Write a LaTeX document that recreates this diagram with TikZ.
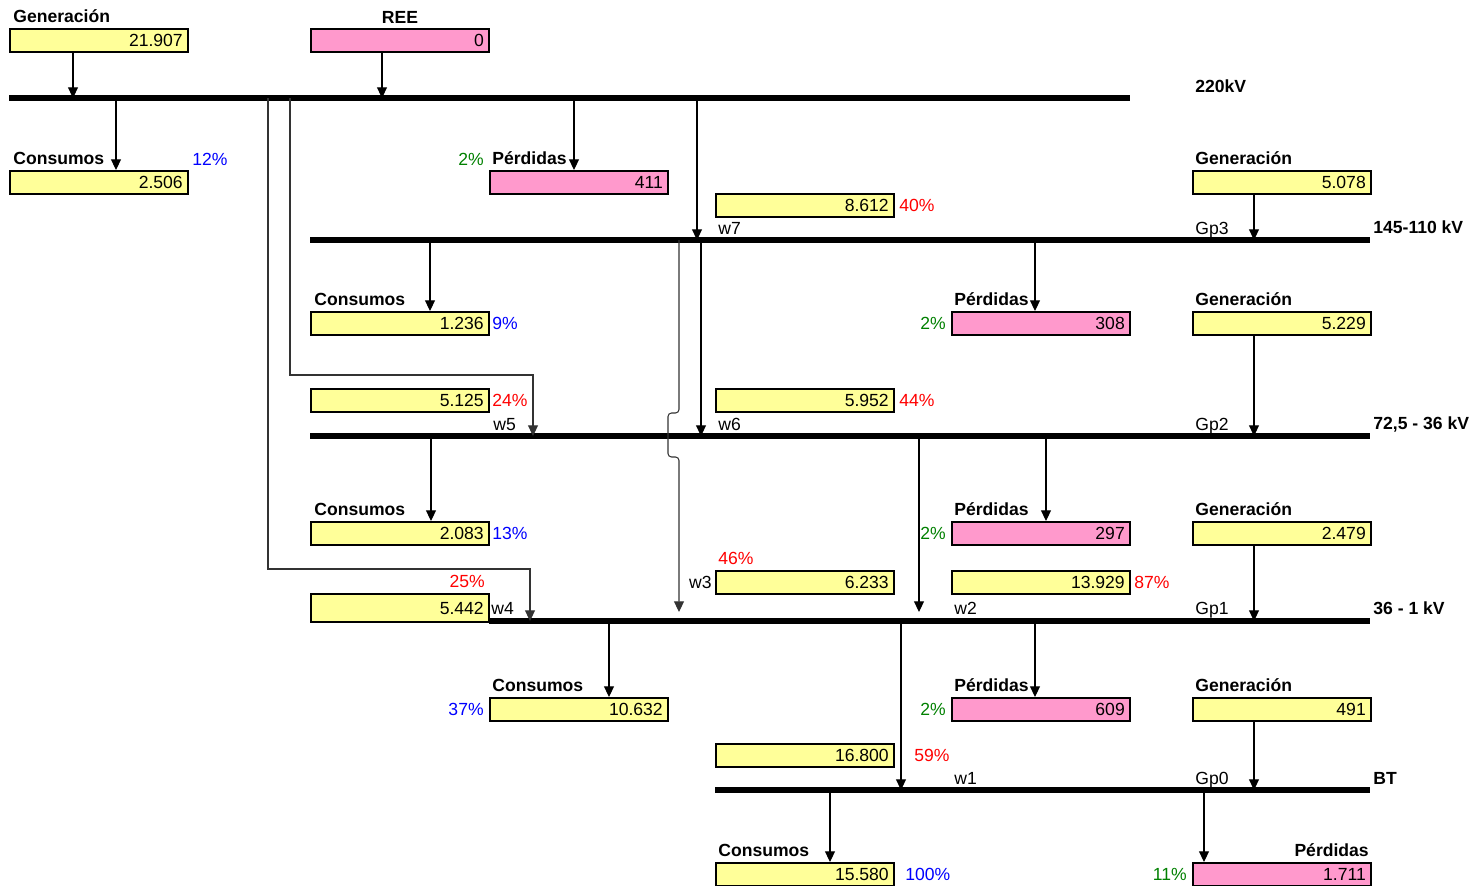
\documentclass[tikz,border=0pt]{standalone}
\usepackage{fontspec}
\setmainfont{Liberation Sans}
\usetikzlibrary{arrows.meta, positioning}
\definecolor{bal_yellow}{HTML}{FFFF99}
\definecolor{bal_pink}{HTML}{FF99CC}
\definecolor{bal_blue}{HTML}{0000FF}
\definecolor{bal_red}{HTML}{FF0000}
\definecolor{bal_green}{HTML}{008000}

\begin{document}
\begin{tikzpicture}[
        x=0.02cm, y=-0.02cm,
        value/.style={rectangle, draw, line width=1.2pt, fill=bal_yellow, anchor=north west, minimum height=0.46cm, text width=3.35cm, inner xsep=0.105cm, inner ysep=0pt, align=right},
        loss/.style={value, fill=bal_pink},
        title/.style={font=\bfseries, inner sep=0pt},
        tag/.style={inner sep=0pt, anchor=base west},
        pct/.style={inner sep=0pt},
        bus/.style={line width=2.9pt},
        flow/.style={-{Triangle[length=6pt, width=5.6pt]}, line width=0.6pt},
        bypass/.style={flow, black!80},
    ]
        \useasboundingbox (0,0) rectangle (1475,886);

        % Buses
        \coordinate (b220-w) at (9,98);    \coordinate (b220-e) at (1130,98);
        \coordinate (b145-w) at (310,240); \coordinate (b145-e) at (1370,240);
        \coordinate (b72-w) at (310,436);  \coordinate (b72-e) at (1370,436);
        \coordinate (b36-w) at (489,621);  \coordinate (b36-e) at (1370,621);
        \coordinate (bbt-w) at (715,790);  \coordinate (bbt-e) at (1370,790);
        \draw[bus] (b220-w) -- (b220-e);
        \draw[bus] (b145-w) -- (b145-e);
        \draw[bus] (b72-w) -- (b72-e);
        \draw[bus] (b36-w) -- (b36-e);
        \draw[bus] (bbt-w) -- (bbt-e);

        \node[title, anchor=base west] (b220-t) at (1195,92) {220kV};
        \node[title, anchor=base west] (b145-t) at (1373,233) {145-110 kV};
        \node[title, anchor=base west] (b72-t) at (1373,429) {72,5 - 36 kV};
        \node[title, anchor=base west] (b36-t) at (1373,614) {36 - 1 kV};
        \node[title, anchor=base west] (bbt-t) at (1373,784) {BT};

        % 220 kV
        \node[value] (gen) at (9,28) {21.907};
        \node[title, above right=0.09cm and 0.08cm of gen.north west] (gen-t) {Generación};
        \node[loss] (ree) at (310,28) {0};
        \node[title, above=0.09cm of ree.north] (ree-t) {REE};

        \node[value] (c220) at (9,170) {2.506};
        \node[title, above right=0.09cm and 0.08cm of c220.north west] (c220-t) {Consumos};
        \node[pct, text=bal_blue, above right=0.09cm and 0.06cm of c220.north east] (c220-p) {12\%};

        \node[loss] (p220) at (489,170) {411};
        \node[title, above right=0.09cm and 0.06cm of p220.north west] (p220-t) {Pérdidas};
        \node[pct, text=bal_green, above left=0.09cm and 0.1cm of p220.north west] (p220-p) {2\%};

        \coordinate (t220-gen) at (73,98);
        \coordinate (t220-ree) at (382,98);
        \coordinate (t220-con) at (116,98);
        \coordinate (t220-per) at (574,98);
        \draw[flow] (gen.south -| t220-gen) -- (t220-gen);
        \draw[flow] (ree.south -| t220-ree) -- (t220-ree);
        \draw[flow] (t220-con) -- (c220.north -| t220-con);
        \draw[flow] (t220-per) -- (p220.north -| t220-per);

        % 145-110 kV
        \node[value] (w7) at (715,193) {8.612};
        \node[pct, text=bal_red, right=0.08cm of w7] (w7-p) {40\%};
        \node[tag] (w7-t) at (718,234) {w7};
        \coordinate (t220-w7) at (697,98);
        \coordinate (t145-w7) at (697,240);
        \draw[flow] (t220-w7) -- (t145-w7);

        \node[value] (g145) at (1192,170) {5.078};
        \node[title, above right=0.09cm and 0.06cm of g145.north west] (g145-t) {Generación};
        \node[tag] (gp3) at (1195,234) {Gp3};
        \coordinate (t145-gen) at (1254,240);
        \draw[flow] (g145.south -| t145-gen) -- (t145-gen);

        \node[value] (c145) at (310,311) {1.236};
        \node[title, above right=0.09cm and 0.08cm of c145.north west] (c145-t) {Consumos};
        \node[pct, text=bal_blue, right=0.04cm of c145] (c145-p) {9\%};
        \coordinate (t145-con) at (430,240);
        \draw[flow] (t145-con) -- (c145.north -| t145-con);

        \node[loss] (p145) at (951,311) {308};
        \node[title, above right=0.09cm and 0.06cm of p145.north west] (p145-t) {Pérdidas};
        \node[pct, text=bal_green, left=0.1cm of p145] (p145-p) {2\%};
        \coordinate (t145-per) at (1035,240);
        \draw[flow] (t145-per) -- (p145.north -| t145-per);

        % 72,5 - 36 kV
        \node[value] (w5) at (310,388) {5.125};
        \node[pct, text=bal_red, right=0.04cm of w5] (w5-p) {24\%};
        \node[tag] (w5-t) at (493,430) {w5};
        \coordinate (t220-w5) at (290,98);
        \coordinate (t72-w5) at (533,436);
        \draw[bypass] (t220-w5) -- (290,375) -- (533,375) -- (t72-w5);

        \node[value] (w6) at (715,388) {5.952};
        \node[pct, text=bal_red, right=0.08cm of w6] (w6-p) {44\%};
        \node[tag] (w6-t) at (718,430) {w6};
        \coordinate (t145-w6) at (701,240);
        \coordinate (t72-w6) at (701,436);
        \draw[flow] (t145-w6) -- (t72-w6);

        \node[value] (g72) at (1192,311) {5.229};
        \node[title, above right=0.09cm and 0.06cm of g72.north west] (g72-t) {Generación};
        \node[tag] (gp2) at (1195,430) {Gp2};
        \coordinate (t72-gen) at (1254,436);
        \draw[flow] (g72.south -| t72-gen) -- (t72-gen);

        \node[value] (c72) at (310,521) {2.083};
        \node[title, above right=0.09cm and 0.08cm of c72.north west] (c72-t) {Consumos};
        \node[pct, text=bal_blue, right=0.04cm of c72] (c72-p) {13\%};
        \coordinate (t72-con) at (431,436);
        \draw[flow] (t72-con) -- (c72.north -| t72-con);

        \node[loss] (p72) at (951,521) {297};
        \node[title, above right=0.09cm and 0.06cm of p72.north west] (p72-t) {Pérdidas};
        \node[pct, text=bal_green, left=0.1cm of p72] (p72-p) {2\%};
        \coordinate (t72-per) at (1046,436);
        \draw[flow] (t72-per) -- (p72.north -| t72-per);

        % 36 - 1 kV
        \node[value] (w3) at (715,570) {6.233};
        \node[pct, text=bal_red, above right=0.1cm and 0.06cm of w3.north west] (w3-p) {46\%};
        \node[inner sep=0pt, left=0.06cm of w3] (w3-t) {w3};
        \coordinate (t145-w3) at (679,240);
        \coordinate (t36-w3) at (679,612);
        \draw[bypass, rounded corners=2pt] (t145-w3) -- (679,413) -- (668,413) -- (668,457) -- (679,457) -- (t36-w3);

        \node[value] (w2) at (951,570) {13.929};
        \node[pct, text=bal_red, right=0.06cm of w2] (w2-p) {87\%};
        \node[tag] (w2-t) at (954,614) {w2};
        \coordinate (t72-w2) at (919,436);
        \coordinate (t36-w2) at (919,612);
        \draw[flow] (t72-w2) -- (t36-w2);

        \node[value, minimum height=0.56cm] (w4) at (310,593) {5.442};
        \node[pct, text=bal_red, above left=0.1cm and 0.1cm of w4.north east] (w4-p) {25\%};
        \node[tag] (w4-t) at (491,614) {w4};
        \coordinate (t220-w4) at (268,98);
        \coordinate (t36-w4) at (530,621);
        \draw[bypass] (t220-w4) -- (268,569) -- (530,569) -- (t36-w4);

        \node[value] (g36) at (1192,521) {2.479};
        \node[title, above right=0.09cm and 0.06cm of g36.north west] (g36-t) {Generación};
        \node[tag] (gp1) at (1195,614) {Gp1};
        \coordinate (t36-gen) at (1254,621);
        \draw[flow] (g36.south -| t36-gen) -- (t36-gen);

        \node[value] (c36) at (489,697) {10.632};
        \node[title, above right=0.09cm and 0.06cm of c36.north west] (c36-t) {Consumos};
        \node[pct, text=bal_blue, left=0.1cm of c36] (c36-p) {37\%};
        \coordinate (t36-con) at (609,621);
        \draw[flow] (t36-con) -- (c36.north -| t36-con);

        \node[loss] (p36) at (951,697) {609};
        \node[title, above right=0.09cm and 0.06cm of p36.north west] (p36-t) {Pérdidas};
        \node[pct, text=bal_green, left=0.1cm of p36] (p36-p) {2\%};
        \coordinate (t36-per) at (1035,621);
        \draw[flow] (t36-per) -- (p36.north -| t36-per);

        % BT
        \node[value] (w1) at (715,743) {16.800};
        \node[pct, text=bal_red, right=0.38cm of w1] (w1-p) {59\%};
        \node[tag] (w1-t) at (954,784) {w1};
        \coordinate (t36-w1) at (901,621);
        \coordinate (tbt-w1) at (901,790);
        \draw[flow] (t36-w1) -- (tbt-w1);

        \node[value] (gbt) at (1192,697) {491};
        \node[title, above right=0.09cm and 0.06cm of gbt.north west] (gbt-t) {Generación};
        \node[tag] (gp0) at (1195,784) {Gp0};
        \coordinate (tbt-gen) at (1254,790);
        \draw[flow] (gbt.south -| tbt-gen) -- (tbt-gen);

        \node[value] (cbt) at (715,862) {15.580};
        \node[title, above right=0.09cm and 0.06cm of cbt.north west] (cbt-t) {Consumos};
        \node[pct, text=bal_blue, right=0.2cm of cbt] (cbt-p) {100\%};
        \coordinate (tbt-con) at (830,790);
        \draw[flow] (tbt-con) -- (cbt.north -| tbt-con);

        \node[loss] (pbt) at (1192,862) {1.711};
        \node[title, above left=0.09cm and 0.06cm of pbt.north east] (pbt-t) {Pérdidas};
        \node[pct, text=bal_green, left=0.1cm of pbt] (pbt-p) {11\%};
        \coordinate (tbt-per) at (1204,790);
        \draw[flow] (tbt-per) -- (pbt.north -| tbt-per);
    \end{tikzpicture}
\end{document}
